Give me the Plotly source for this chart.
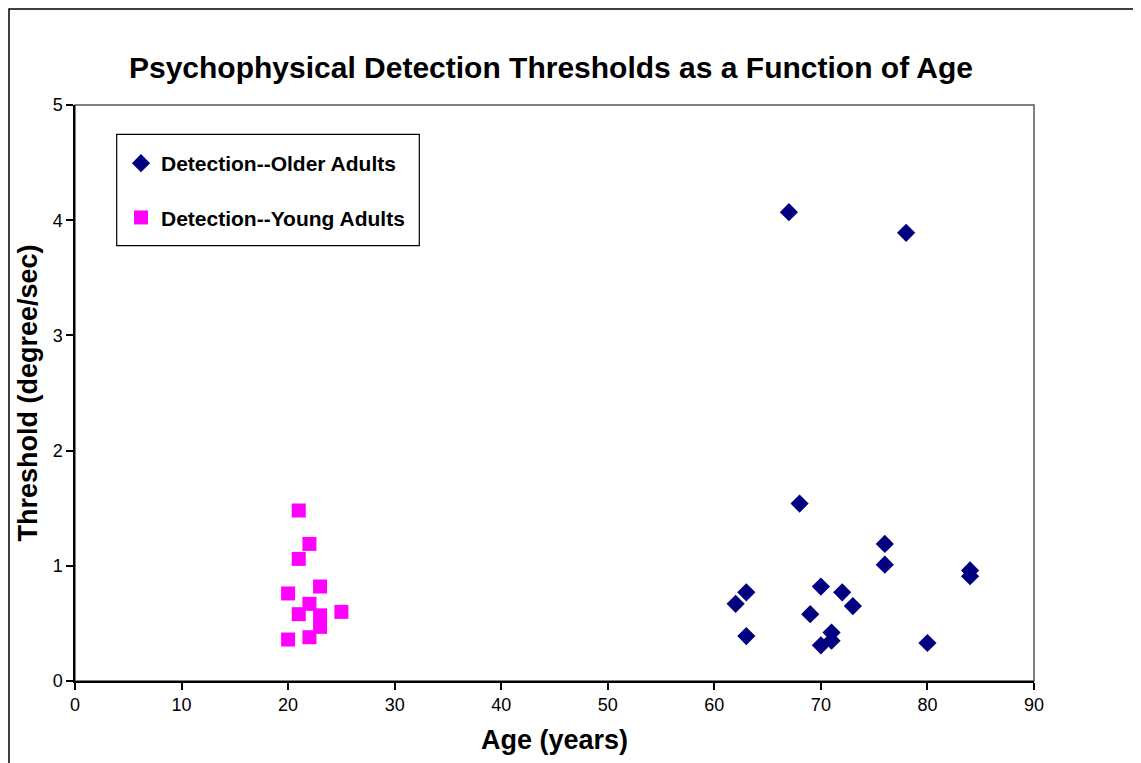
import plotly.graph_objects as go

# Data
older_age = [67, 78, 68, 76, 76, 84, 84, 63, 62, 70, 72, 73, 69, 63, 71, 71, 70, 80]
older_thr = [4.07, 3.89, 1.54, 1.19, 1.01, 0.96, 0.91, 0.77, 0.67, 0.82, 0.77, 0.65, 0.58, 0.39, 0.42, 0.35, 0.31, 0.33]

young_age = [21, 22, 21, 23, 20, 22, 21, 25, 23, 23, 22, 20]
young_thr = [1.48, 1.19, 1.06, 0.82, 0.76, 0.67, 0.58, 0.60, 0.57, 0.47, 0.38, 0.36]

x_ticks = [0, 10, 20, 30, 40, 50, 60, 70, 80, 90]
y_ticks = [0, 1, 2, 3, 4, 5]

title_text = "Psychophysical Detection Thresholds as a Function of Age"
x_title = "Age (years)"
y_title = "Threshold (degree/sec)"
name_older = "Detection--Older Adults"
name_young = "Detection--Young Adults"

FONT = "Liberation Sans, Arial, sans-serif"

fig = go.Figure()
fig.add_trace(go.Scatter(
    x=older_age, y=older_thr, mode="markers", name=name_older,
    legendgroup="a",
    marker=dict(symbol="diamond", size=14, color="#000080", line=dict(width=0)),
))
fig.add_trace(go.Scatter(
    x=young_age, y=young_thr, mode="markers", name=name_young,
    legendgroup="b",
    marker=dict(symbol="square", size=14, color="#FF00FF", line=dict(width=0)),
))

# The page body adds an 8px offset; lay out relative to the window.
OFF = 8
W, H = 1141 - OFF, 763 - OFF
PL, PR, PT, PB = 75, 1034, 105, 681          # plot area in window pixels
L, T = PL - OFF, PT - OFF
R, B = W - (PR - OFF), H - (PB - OFF)
pw, ph = PR - PL, PB - PT

def px(x):
    return (x - PL) / pw

def py(y):
    return (PB - y) / ph

fig.update_layout(
    width=W, height=H,
    margin=dict(l=L, r=R, t=T, b=B),
    paper_bgcolor="white", plot_bgcolor="white",
    font=dict(family=FONT, color="black"),
    title=dict(text=title_text, x=px(551), xref="paper", xanchor="center",
               y=1 - (67 - OFF) / H, yanchor="middle",
               font=dict(size=30, family=FONT, color="black", weight="bold")),
    showlegend=True,
    legend=dict(
        x=px(121), y=py(143), xanchor="left", yanchor="top",
        bgcolor="rgba(0,0,0,0)", borderwidth=0,
        font=dict(size=21, family=FONT, color="black", weight="bold"),
        traceorder="grouped", tracegroupgap=24,
    ),
    xaxis=dict(
        range=[0, 90], tickvals=x_ticks, showgrid=False, zeroline=False,
        showline=True, linecolor="black", linewidth=1.5, mirror=False,
        ticks="outside", ticklen=7, tickwidth=1.5, tickcolor="black",
        tickfont=dict(size=18, family=FONT, color="black"),
        title=dict(text=x_title, standoff=16,
                   font=dict(size=27, family=FONT, color="black", weight="bold")),
    ),
    yaxis=dict(
        range=[0, 5], tickvals=y_ticks, showgrid=False, zeroline=False,
        showline=True, linecolor="black", linewidth=1.5, mirror=False,
        ticks="outside", ticklen=7, tickwidth=1.5, tickcolor="black",
        tickfont=dict(size=18, family=FONT, color="black"),
        title=dict(text=y_title, standoff=7,
                   font=dict(size=27, family=FONT, color="black", weight="bold")),
    ),
    shapes=[
        # outer chart frame (left and top edges visible)
        dict(type="rect", xref="paper", yref="paper",
             x0=px(9), y0=py(800), x1=px(1170), y1=py(9),
             line=dict(color="black", width=1.5), layer="below"),
        # plot area border (gray top/right)
        dict(type="rect", xref="paper", yref="paper",
             x0=0, y0=0, x1=1, y1=1,
             line=dict(color="#555555", width=1.5), layer="below"),
        # legend box
        dict(type="rect", xref="paper", yref="paper",
             x0=px(116.7), y0=py(245.7), x1=px(419.3), y1=py(134.3),
             line=dict(color="black", width=1.2), fillcolor="white", layer="below"),
    ],
)

fig.write_html("out.html")
